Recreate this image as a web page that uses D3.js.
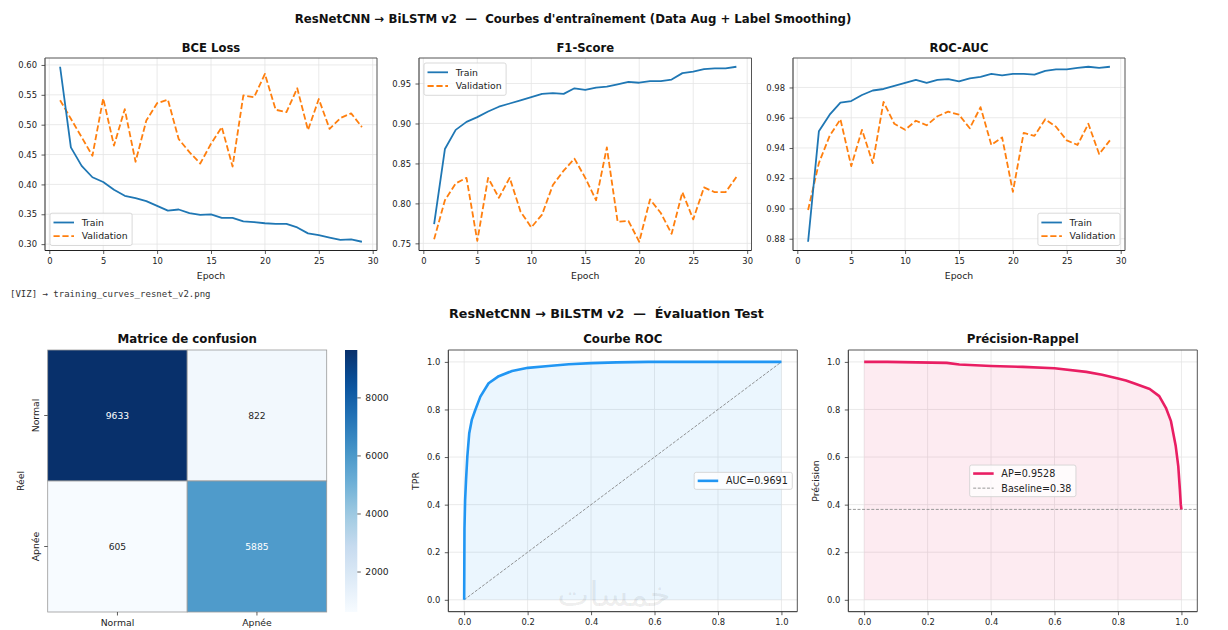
<!DOCTYPE html>
<html><head><meta charset="utf-8">
<script src="https://cdn.jsdelivr.net/npm/d3@7"></script>
<style>body{margin:0;background:#fff} svg{display:block} text{white-space:pre}</style>
</head><body><svg id="c" width="1228" height="630"></svg>
<script>
// ---------------- DATA ----------------
const epochs = [1,2,3,4,5,6,7,8,9,10,11,12,13,14,15,16,17,18,19,20,21,22,23,24,25,26,27,28,29];
const bceTrain = [0.597,0.462,0.431,0.412,0.404,0.391,0.381,0.377,0.372,0.364,0.356,0.358,0.352,0.349,0.350,0.344,0.344,0.338,0.337,0.335,0.334,0.334,0.328,0.318,0.315,0.311,0.307,0.308,0.304];
const bceVal   = [0.541,0.510,0.479,0.448,0.544,0.465,0.526,0.438,0.507,0.536,0.542,0.476,0.454,0.435,0.468,0.496,0.430,0.549,0.546,0.585,0.525,0.521,0.561,0.491,0.543,0.493,0.511,0.519,0.496];
const f1Train  = [0.774,0.868,0.892,0.902,0.908,0.915,0.921,0.925,0.929,0.933,0.937,0.938,0.937,0.944,0.942,0.945,0.946,0.949,0.952,0.951,0.953,0.953,0.955,0.963,0.965,0.968,0.969,0.969,0.971];
const f1Val    = [0.755,0.804,0.825,0.832,0.753,0.832,0.807,0.832,0.790,0.770,0.786,0.823,0.841,0.856,0.832,0.804,0.870,0.777,0.778,0.752,0.805,0.788,0.762,0.814,0.780,0.820,0.814,0.814,0.833];
const aucTrain = [0.878,0.951,0.962,0.970,0.971,0.975,0.978,0.979,0.981,0.983,0.985,0.983,0.985,0.9855,0.984,0.986,0.987,0.989,0.988,0.989,0.989,0.9885,0.991,0.992,0.992,0.993,0.9937,0.993,0.9937];
const aucVal   = [0.899,0.930,0.948,0.959,0.928,0.952,0.930,0.9705,0.956,0.952,0.958,0.955,0.961,0.964,0.962,0.953,0.967,0.942,0.947,0.911,0.950,0.948,0.959,0.954,0.945,0.942,0.956,0.936,0.945];
const seriesNames = ["Train","Validation"];
const epochTicks = [0,5,10,15,20,25,30];
const bceTicks = [0.30,0.35,0.40,0.45,0.50,0.55,0.60];
const f1Ticks  = [0.75,0.80,0.85,0.90,0.95];
const aucTicks = [0.88,0.90,0.92,0.94,0.96,0.98];

const cmLabels = ["Normal","Apnée"];
const cmValues = [[9633,822],[605,5885]];
const cbTicks  = [2000,4000,6000,8000];

const rocFpr = [0,0.0005,0.001,0.003,0.006,0.010,0.016,0.024,0.035,0.051,0.077,0.109,0.151,0.201,0.266,0.330,0.401,0.480,0.580,0.700,1.0];
const rocTpr = [0,0.15,0.30,0.42,0.505,0.603,0.700,0.756,0.798,0.854,0.910,0.940,0.962,0.975,0.983,0.990,0.995,0.998,1.0,1.0,1.0];
const aucLabel = "AUC=0.9691";

const prRecall    = [0,0.073,0.26,0.30,0.40,0.50,0.60,0.70,0.75,0.80,0.825,0.85,0.90,0.93,0.951,0.967,0.982,0.990,0.995,0.998,1.0];
const prPrecision = [1.0,1.0,0.996,0.989,0.983,0.979,0.973,0.958,0.946,0.930,0.922,0.910,0.886,0.856,0.807,0.751,0.646,0.562,0.465,0.400,0.380];
const apLabel = "AP=0.9528";
const baselineValue = 0.38;
const baselineLabel = "Baseline=0.38";
const unitTicks = [0,0.2,0.4,0.6,0.8,1.0];

const supTitle1 = "ResNetCNN \u2192 BiLSTM v2  \u2014  Courbes d'entraînement (Data Aug + Label Smoothing)";
const supTitle2 = "ResNetCNN \u2192 BiLSTM v2  \u2014  Évaluation Test";
const logLine = "[VIZ] \u2192 training_curves_resnet_v2.png";
const watermark = "خمسات";

// ---------------- STYLE ----------------
const FONT = '"DejaVu Sans", sans-serif';
const TXT = "#222", SPINE = "#333", GRID = "#e4e4e4";
const C_TRAIN = "#1f77b4", C_VAL = "#ff7f0e", C_ROC = "#2196F3", C_PR = "#E91E63";
const BLUES = ["#f7fbff","#deebf7","#c6dbef","#9ecae1","#6baed6","#4292c6","#2171b5","#08519c","#08306b"];

const svg = d3.select("#c").attr("font-family", FONT);
svg.append("rect").attr("width",1228).attr("height",630).attr("fill","#fff");

function padDom([a,b], m=0.05){ const d=(b-a)*m; return [a-d,b+d]; }

function txt(x,y,s,opt={}){
  const t = svg.append("text").attr("x",x).attr("y",y).text(s)
    .attr("font-size",opt.fs||9.3).attr("fill",opt.fill||TXT)
    .attr("text-anchor",opt.anchor||"middle");
  if(opt.bold) t.attr("font-weight","bold");
  if(opt.rot) t.attr("transform",`rotate(-90,${x},${y})`);
  if(opt.family) t.attr("font-family",opt.family);
  return t;
}

function grid(box,x,y,xt,yt){
  const g = svg.append("g");
  g.selectAll(null).data(xt.filter(d=>x(d)>=box.x0-0.5&&x(d)<=box.x1+0.5)).join("line")
    .attr("x1",d=>x(d)).attr("x2",d=>x(d)).attr("y1",box.y0).attr("y2",box.y1)
    .attr("stroke",GRID).attr("stroke-width",0.8);
  g.selectAll(null).data(yt).join("line")
    .attr("y1",d=>y(d)).attr("y2",d=>y(d)).attr("x1",box.x0).attr("x2",box.x1)
    .attr("stroke",GRID).attr("stroke-width",0.8);
}

function styleAxis(sel, fs){
  sel.select(".domain").remove();
  sel.selectAll(".tick line").attr("stroke",SPINE).attr("stroke-width",0.8);
  sel.selectAll(".tick text").attr("fill",TXT).attr("font-size",fs).attr("font-family",FONT);
}

function axesAndSpines(box,x,y,xt,yt,xf,yf,fs=8.4){
  const sp = svg.append("g").attr("fill","none");
  sp.append("line").attr("x1",box.x0).attr("x2",box.x0).attr("y1",box.y0).attr("y2",box.y1).attr("stroke","#222").attr("stroke-width",1);
  sp.append("line").attr("x1",box.x0).attr("x2",box.x1).attr("y1",box.y1).attr("y2",box.y1).attr("stroke","#222").attr("stroke-width",1);
  sp.append("line").attr("x1",box.x0).attr("x2",box.x1).attr("y1",box.y0).attr("y2",box.y0).attr("stroke","#555").attr("stroke-width",1);
  sp.append("line").attr("x1",box.x1).attr("x2",box.x1).attr("y1",box.y0).attr("y2",box.y1).attr("stroke","#555").attr("stroke-width",1);
  svg.append("g").attr("transform",`translate(0,${box.y1})`)
    .call(d3.axisBottom(x).tickValues(xt).tickFormat(xf).tickSize(3.5).tickPadding(4))
    .call(s=>styleAxis(s,fs));
  svg.append("g").attr("transform",`translate(${box.x0},0)`)
    .call(d3.axisLeft(y).tickValues(yt).tickFormat(yf).tickSize(3.5).tickPadding(4.5))
    .call(s=>styleAxis(s,fs));
}

function legend(items, anchor, opt){
  const fs = opt.fs, rowH = opt.rowH, padT = opt.padT;
  const g = svg.append("g");
  const bg = g.append("rect").attr("fill","#fff").attr("fill-opacity",0.8)
    .attr("stroke","#cfcfcf").attr("stroke-width",0.8).attr("rx",2);
  let maxW = 0;
  items.forEach((it,i)=>{
    const cy = padT + i*rowH;
    g.append("line").attr("x1",3.5).attr("x2",24).attr("y1",cy).attr("y2",cy)
      .attr("stroke",it.color).attr("stroke-width",it.width)
      .attr("stroke-dasharray",it.dash||null).attr("stroke-opacity",it.opacity||1);
    const t = g.append("text").attr("x",31.7).attr("y",cy).attr("dy","0.35em")
      .attr("font-size",fs).attr("fill",TXT).text(it.label);
    maxW = Math.max(maxW, t.node().getComputedTextLength());
  });
  const w = 31.7 + maxW + 4.5, h = 2*padT + (items.length-1)*rowH;
  bg.attr("width",w).attr("height",h);
  let tx, ty;
  if(anchor.loc==="lower left"){ tx=anchor.box.x0+5; ty=anchor.box.y1-5-h; }
  else if(anchor.loc==="upper left"){ tx=anchor.box.x0+5; ty=anchor.box.y0+5; }
  else if(anchor.loc==="lower right"){ tx=anchor.box.x1-5-w; ty=anchor.box.y1-5-h; }
  else if(anchor.loc==="center right"){ tx=anchor.box.x1-5-w; ty=(anchor.box.y0+anchor.box.y1)/2-h/2; }
  else { tx=(anchor.box.x0+anchor.box.x1)/2-w/2; ty=(anchor.box.y0+anchor.box.y1)/2-h/2; }
  g.attr("transform",`translate(${tx},${ty})`);
}

// ---------------- TOP ROW ----------------
txt(573,23,supTitle1,{fs:11.75,bold:true,fill:"#111"});

function linePanel(box,title,train,val,yTicks,loc){
  const x = d3.scaleLinear().domain(padDom(d3.extent(epochs))).range([box.x0,box.x1]);
  const y = d3.scaleLinear().domain(padDom(d3.extent(train.concat(val)))).range([box.y1,box.y0]);
  grid(box,x,y,epochTicks,yTicks);
  const line = d3.line().x((d,i)=>x(epochs[i])).y(d=>y(d));
  svg.append("path").datum(val).attr("d",line).attr("fill","none").attr("stroke",C_VAL)
    .attr("stroke-width",1.8).attr("stroke-dasharray","6.2,2.7").attr("stroke-linejoin","round");
  svg.append("path").datum(train).attr("d",line).attr("fill","none").attr("stroke",C_TRAIN)
    .attr("stroke-width",1.8).attr("stroke-linejoin","round");
  axesAndSpines(box,x,y,epochTicks,yTicks,d3.format("d"),d3.format(".2f"));
  txt((box.x0+box.x1)/2,52,title,{fs:11.6,bold:true,fill:"#111"});
  txt((box.x0+box.x1)/2,279,"Epoch",{fs:9.3});
  legend([
    {label:seriesNames[0],color:C_TRAIN,width:1.8},
    {label:seriesNames[1],color:C_VAL,width:1.8,dash:"6.2,2.7"}
  ],{loc,box},{fs:9.3,rowH:13.7,padT:9.3});
}

linePanel({x0:45,x1:377,y0:58,y1:250.5},"BCE Loss",bceTrain,bceVal,bceTicks,"lower left");
linePanel({x0:419,x1:751.5,y0:58,y1:250.5},"F1-Score",f1Train,f1Val,f1Ticks,"upper left");
linePanel({x0:793,x1:1125,y0:58,y1:250.5},"ROC-AUC",aucTrain,aucVal,aucTicks,"lower right");

txt(10,296.5,logLine,{fs:9,anchor:"start",family:'"DejaVu Sans Mono", monospace',fill:"#333"});

// ---------------- BOTTOM ROW ----------------
txt(606.5,317.5,supTitle2,{fs:12.7,bold:true,fill:"#111"});

// Confusion matrix
(function(){
  const hb = {x0:47.7,x1:326.7,y0:350,y1:612};
  const hx = d3.scaleBand().domain(cmLabels).range([hb.x0,hb.x1]);
  const hy = d3.scaleBand().domain(cmLabels).range([hb.y0,hb.y1]);
  const flat = cmValues.flatMap((row,i)=>row.map((v,j)=>({r:cmLabels[i],c:cmLabels[j],v})));
  const vmin = d3.min(flat,d=>d.v), vmax = d3.max(flat,d=>d.v);
  const interp = d3.piecewise(d3.interpolateRgb, BLUES);
  const color = d3.scaleSequential(interp).domain([vmin,vmax]);
  function lum(c){
    const rgb = d3.rgb(c);
    const f = v=>{v/=255; return v<=0.03928? v/12.92 : Math.pow((v+0.055)/1.055,2.4);};
    return 0.2126*f(rgb.r)+0.7152*f(rgb.g)+0.0722*f(rgb.b);
  }
  svg.append("g").selectAll("rect").data(flat).join("rect")
    .attr("x",d=>hx(d.c)).attr("y",d=>hy(d.r)).attr("width",hx.bandwidth()).attr("height",hy.bandwidth())
    .attr("fill",d=>color(d.v)).attr("stroke","#999").attr("stroke-width",0.8);
  svg.append("g").selectAll("text").data(flat).join("text")
    .attr("x",d=>hx(d.c)+hx.bandwidth()/2).attr("y",d=>hy(d.r)+hy.bandwidth()/2).attr("dy","0.35em")
    .attr("text-anchor","middle").attr("font-size",9.2)
    .attr("fill",d=>lum(color(d.v))<0.408?"#fff":"#262626").text(d=>d.v);
  svg.append("g").attr("transform",`translate(0,${hb.y1})`)
    .call(d3.axisBottom(hx).tickSize(3.5).tickPadding(3.4)).call(s=>styleAxis(s,9.3));
  const ay = svg.append("g").attr("transform",`translate(${hb.x0},0)`)
    .call(d3.axisLeft(hy).tickSize(3.5)).call(s=>styleAxis(s,9.3));
  ay.selectAll(".tick text").attr("transform","rotate(-90)").attr("x",0).attr("y",-9)
    .attr("dy","0").attr("text-anchor","middle");
  txt(24,481,"Réel",{fs:9.3,rot:true});
  txt((hb.x0+hb.x1)/2,343,"Matrice de confusion",{fs:11.8,bold:true,fill:"#111"});
  // colorbar
  const cb = {x0:345,x1:357.3,y0:350,y1:612};
  const cy = d3.scaleLinear().domain([vmin,vmax]).range([cb.y1,cb.y0]);
  const grad = svg.append("defs").append("linearGradient").attr("id","cbg")
    .attr("x1",0).attr("x2",0).attr("y1",1).attr("y2",0);
  d3.range(0,1.0001,0.05).forEach(t=>grad.append("stop").attr("offset",t).attr("stop-color",interp(t)));
  svg.append("rect").attr("x",cb.x0).attr("y",cb.y0).attr("width",cb.x1-cb.x0).attr("height",cb.y1-cb.y0)
    .attr("fill","url(#cbg)");
  svg.append("g").attr("transform",`translate(${cb.x1},0)`)
    .call(d3.axisRight(cy).tickValues(cbTicks).tickFormat(d3.format("d")).tickSize(3.5).tickPadding(4.5))
    .call(s=>styleAxis(s,9.2));
})();

function curvePanel(box,title,xs,ys,color,ylabel,legendItems,loc,extra){
  const x = d3.scaleLinear().domain([-0.05,1.05]).range([box.x0,box.x1]);
  const y = d3.scaleLinear().domain([-0.05,1.05]).range([box.y1,box.y0]);
  grid(box,x,y,unitTicks,unitTicks);
  const pts = xs.map((v,i)=>[v,ys[i]]);
  svg.append("path").datum(pts)
    .attr("d",d3.area().x(d=>x(d[0])).y0(y(0)).y1(d=>y(d[1])))
    .attr("fill",color).attr("fill-opacity",0.09);
  if(extra) extra(x,y);
  svg.append("path").datum(pts).attr("d",d3.line().x(d=>x(d[0])).y(d=>y(d[1])))
    .attr("fill","none").attr("stroke",color).attr("stroke-width",2.6).attr("stroke-linejoin","round");
  axesAndSpines(box,x,y,unitTicks,unitTicks,d3.format(".1f"),d3.format(".1f"));
  txt((box.x0+box.x1)/2,343,title,{fs:11.8,bold:true,fill:"#111"});
  txt(box.x0-29,481,ylabel,{fs:9.3,rot:true});
  legend(legendItems,{loc,box},{fs:9.6,rowH:14.6,padT:8.5});
}

// faint watermark (drawn under the ROC curve, above the fill)
function drawWatermark(){
  svg.append("text").attr("x",614).attr("y",606).attr("text-anchor","middle")
    .attr("font-size",34).attr("fill","#000").attr("fill-opacity",0.07).text(watermark);
}

curvePanel({x0:448.3,x1:797.3,y0:350,y1:611.7},"Courbe ROC",rocFpr,rocTpr,C_ROC,"TPR",
  [{label:aucLabel,color:C_ROC,width:2.6}],"center right",
  (x,y)=>{
    svg.append("line").attr("x1",x(0)).attr("y1",y(0)).attr("x2",x(1)).attr("y2",y(1))
      .attr("stroke","#777").attr("stroke-width",0.8).attr("stroke-dasharray","3,1.5");
    drawWatermark();
  });

curvePanel({x0:848.3,x1:1197.3,y0:350,y1:611.7},"Précision-Rappel",prRecall,prPrecision,C_PR,"Précision",
  [{label:apLabel,color:C_PR,width:2.6},{label:baselineLabel,color:"#999",width:1,dash:"3,1.6"}],"center",
  (x,y)=>{
    svg.append("line").attr("x1",x.range()[0]).attr("x2",x.range()[1]).attr("y1",y(baselineValue)).attr("y2",y(baselineValue))
      .attr("stroke","#999").attr("stroke-width",1).attr("stroke-dasharray","3,1.6");
  });
</script></body></html>
